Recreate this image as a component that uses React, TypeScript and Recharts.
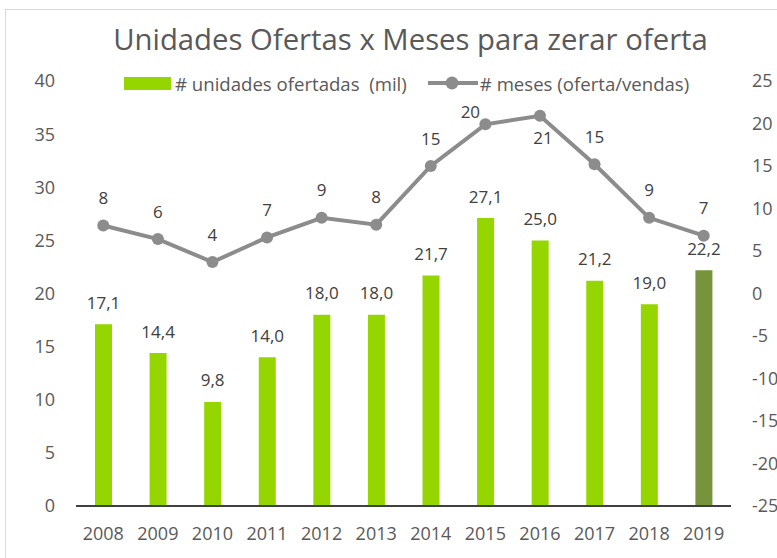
import { Bar, Cell, ComposedChart, LabelList, Line, XAxis, YAxis } from "recharts";

const years = ["2008", "2009", "2010", "2011", "2012", "2013", "2014", "2015", "2016", "2017", "2018", "2019"];
const units = [17.1, 14.4, 9.8, 14.0, 18.0, 18.0, 21.7, 27.1, 25.0, 21.2, 19.0, 22.2];
const months = [8.0, 6.4, 3.7, 6.6, 8.9, 8.1, 15.0, 19.9, 20.9, 15.2, 8.9, 6.8];
const leftTicks = [0, 5, 10, 15, 20, 25, 30, 35, 40];
const rightTicks = [-25, -20, -15, -10, -5, 0, 5, 10, 15, 20, 25];

const FONT = "'Open Sans', sans-serif";
const GREEN = "#95d600";
const OLIVE = "#77933c";
const GRAY_LINE = "#8c8c8c";

const data = years.map((year, i) => ({ year, units: units[i], months: months[i] }));

function BarValue(props: any) {
  const { x, y, width, value } = props;
  return (
    <text
      x={x + width / 2}
      y={y - 22}
      textAnchor="middle"
      dominantBaseline="central"
      fill="#404040"
      fontSize={17}
      fontFamily={FONT}
    >
      {Number(value).toFixed(1).replace(".", ",")}
    </text>
  );
}

function MonthValue(props: any) {
  const { x, y, value, index } = props;
  // a couple of labels were nudged by hand in the original
  let dx = 0;
  let dy = -28;
  if (years[index] === "2015") {
    dx = -15;
    dy = -13;
  } else if (years[index] === "2016") {
    dx = 3;
    dy = 22;
  }
  return (
    <text
      x={x + dx}
      y={y + dy}
      textAnchor="middle"
      dominantBaseline="central"
      fill="#404040"
      fontSize={17}
      fontFamily={FONT}
    >
      {Math.round(Number(value))}
    </text>
  );
}

export default function App() {
  const tick = { fill: "#595959", fontSize: 18, fontFamily: FONT };
  return (
    <div style={{ position: "absolute", left: 0, top: 0, width: 777, height: 558, background: "#fff", overflow: "hidden" }}>
      <div
        style={{
          position: "absolute",
          left: 5,
          top: 9,
          width: 800,
          height: 600,
          border: "1px solid #d9d9d9",
        }}
      />
      <div
        style={{
          position: "absolute",
          left: 0,
          top: 19,
          width: 821,
          textAlign: "center",
          fontFamily: FONT,
          fontSize: 29.3,
          color: "#595959",
          whiteSpace: "nowrap",
        }}
      >
        Unidades Ofertas x Meses para zerar oferta
      </div>
      <div
        style={{
          position: "absolute",
          left: 124,
          top: 71,
          display: "flex",
          alignItems: "center",
          fontFamily: FONT,
          fontSize: 18.6,
          color: "#595959",
          whiteSpace: "pre",
          height: 24,
        }}
      >
        <span style={{ display: "inline-block", width: 47, height: 13, background: GREEN, marginRight: 4 }} />
        <span># unidades ofertadas  (mil)</span>
        <svg width={50} height={16} style={{ marginLeft: 21, marginRight: 2 }}>
          <line x1={0} y1={8} x2={50} y2={8} stroke={GRAY_LINE} strokeWidth={4} />
          <circle cx={24} cy={8} r={6.5} fill={GRAY_LINE} />
        </svg>
        <span># meses (oferta/vendas)</span>
      </div>
      <ComposedChart
        width={777}
        height={558}
        data={data}
        margin={{ top: 81, right: 0, bottom: 0, left: 0 }}
        style={{ position: "absolute", left: 0, top: 0 }}
      >
        <XAxis
          dataKey="year"
          height={52}
          tickLine={false}
          tickSize={0}
          tickMargin={21}
          axisLine={{ stroke: "#404040", strokeWidth: 2 }}
          tick={tick}
          interval={0}
        />
        <YAxis
          yAxisId="left"
          orientation="left"
          width={76}
          domain={[0, 40]}
          ticks={leftTicks}
          tickLine={false}
          axisLine={false}
          tickSize={0}
          tickMargin={21}
          tick={tick}
        />
        <YAxis
          yAxisId="right"
          orientation="right"
          width={46}
          domain={[-25, 25]}
          ticks={rightTicks}
          tickLine={false}
          axisLine={false}
          tickSize={0}
          tickMargin={21}
          tick={{ ...tick, textAnchor: "start" }}
        />
        <Bar yAxisId="left" dataKey="units" barSize={17} isAnimationActive={false}>
          {data.map((d, i) => (
            <Cell key={d.year} fill={i === data.length - 1 ? OLIVE : GREEN} />
          ))}
          <LabelList dataKey="units" content={<BarValue />} />
        </Bar>
        <Line
          yAxisId="right"
          dataKey="months"
          stroke={GRAY_LINE}
          strokeWidth={4}
          dot={{ r: 6, fill: GRAY_LINE, stroke: GRAY_LINE, strokeWidth: 0 }}
          activeDot={false}
          isAnimationActive={false}
        >
          <LabelList dataKey="months" content={<MonthValue />} />
        </Line>
      </ComposedChart>
    </div>
  );
}
